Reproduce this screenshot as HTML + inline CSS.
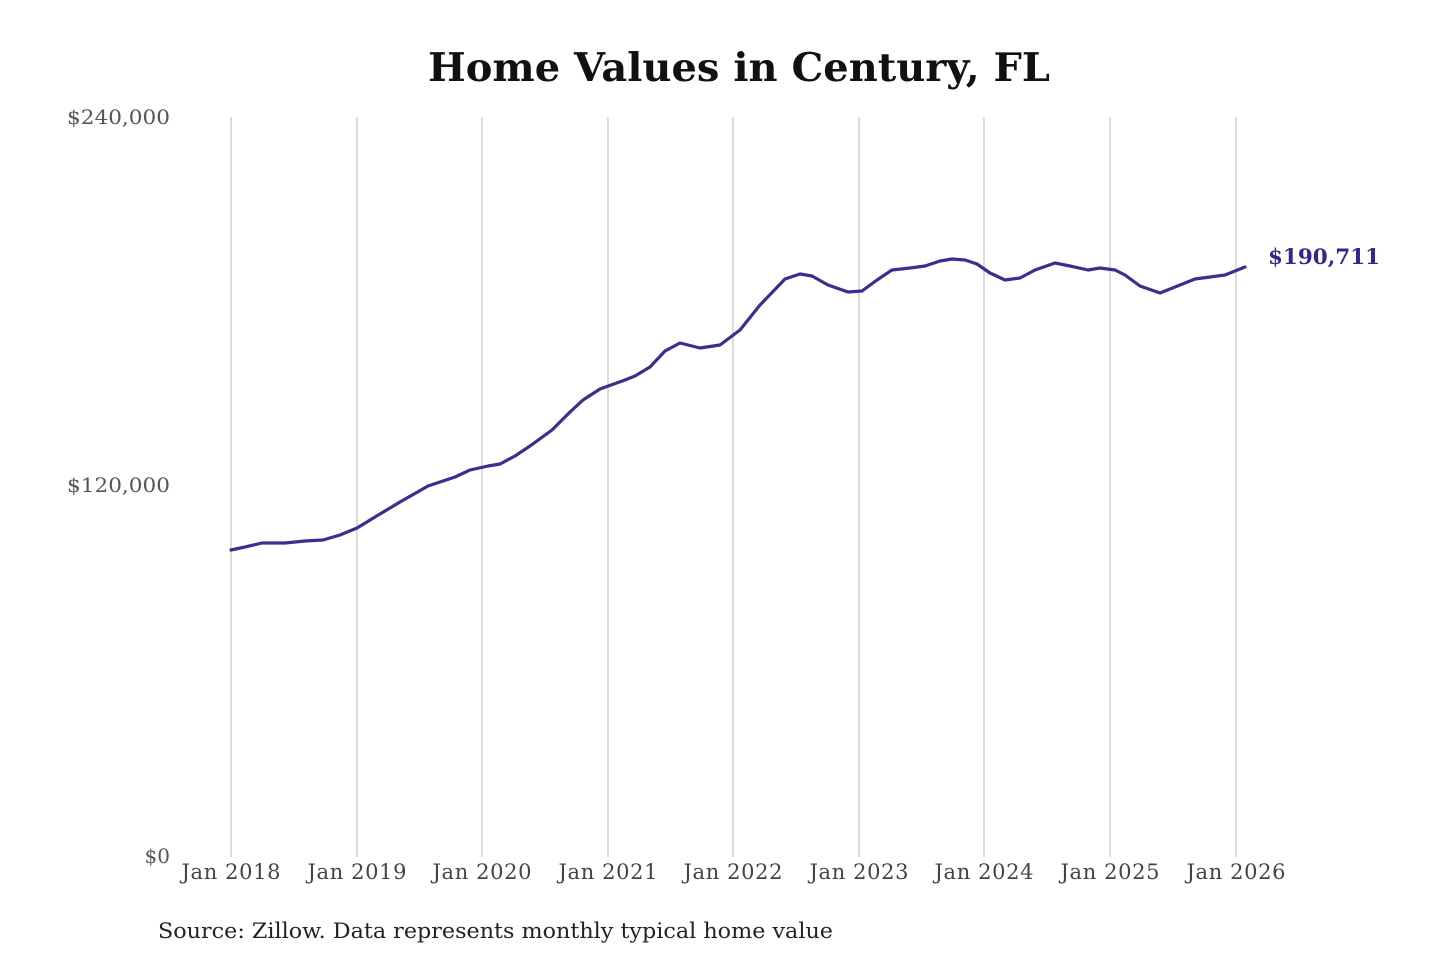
<!DOCTYPE html>
<html><head><meta charset="utf-8"><style>
html,body{margin:0;padding:0;background:#fff;}
svg{display:block;}
</style></head><body>
<svg width="1440" height="960" xmlns="http://www.w3.org/2000/svg" font-family="'DejaVu Serif','Liberation Serif',serif">
<text x="428" y="81" font-size="39" font-weight="bold" fill="#111" textLength="622" lengthAdjust="spacingAndGlyphs">Home Values in Century, FL</text>
<g stroke="#c8c8c8" stroke-width="1.3">
<line x1="231" y1="117" x2="231" y2="857"/>
<line x1="357" y1="117" x2="357" y2="857"/>
<line x1="482" y1="117" x2="482" y2="857"/>
<line x1="608" y1="117" x2="608" y2="857"/>
<line x1="733" y1="117" x2="733" y2="857"/>
<line x1="859" y1="117" x2="859" y2="857"/>
<line x1="984" y1="117" x2="984" y2="857"/>
<line x1="1110" y1="117" x2="1110" y2="857"/>
<line x1="1236" y1="117" x2="1236" y2="857"/>
</g>
<g font-size="20" fill="#555">
<text x="67" y="124" textLength="103" lengthAdjust="spacingAndGlyphs">$240,000</text>
<text x="67" y="492" textLength="103" lengthAdjust="spacingAndGlyphs">$120,000</text>
<text x="170" y="863" text-anchor="end">$0</text>
</g>
<g font-size="21" fill="#444" text-anchor="middle">
<text x="231" y="879" textLength="99">Jan 2018</text>
<text x="357" y="879" textLength="99">Jan 2019</text>
<text x="482" y="879" textLength="99">Jan 2020</text>
<text x="608" y="879" textLength="99">Jan 2021</text>
<text x="733" y="879" textLength="99">Jan 2022</text>
<text x="859" y="879" textLength="99">Jan 2023</text>
<text x="984" y="879" textLength="99">Jan 2024</text>
<text x="1110" y="879" textLength="99">Jan 2025</text>
<text x="1236" y="879" textLength="99">Jan 2026</text>
</g>
<polyline fill="none" stroke="#37308f" stroke-width="3.2" stroke-linejoin="round" stroke-linecap="round" points="231,550 245,547 262,543 285,543 305,541 323,540 340,535 357,528 375,517 400,502 428,486 455,477 470,470 488,466 500,464 515,456 530,446 552,430 570,412 583,400 600,389 625,380 635,376 650,367 665,351 680,343 692,346 700,348 720,345 740,330 760,305 785,279 800,274 812,276 828,285 848,292 862,291 877,280 892,270 910,268 925,266 940,261 952,259 965,260 977,264 990,273 1005,280 1020,278 1035,270 1055,263 1070,266 1088,270 1100,268 1115,270 1125,275 1140,286 1160,293 1175,287 1195,279 1210,277 1225,275 1245,267"/>
<text x="1268" y="264" font-size="21" font-weight="bold" fill="#2e2a8c" textLength="112" lengthAdjust="spacingAndGlyphs">$190,711</text>
<text x="158" y="938" font-size="21" fill="#222" textLength="675" lengthAdjust="spacingAndGlyphs">Source: Zillow. Data represents monthly typical home value</text>
</svg>
</body></html>
